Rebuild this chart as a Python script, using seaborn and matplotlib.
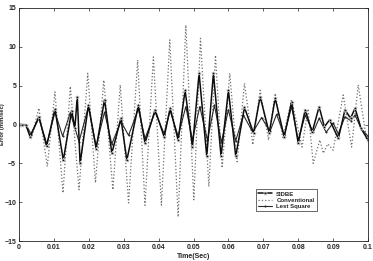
import matplotlib
matplotlib.use("Agg")
import matplotlib.pyplot as plt
import seaborn as sns
import pandas as pd

# values (time in s, error in mm/sec)
t_sidbe = [0.0, 0.001, 0.002, 0.0032, 0.0057, 0.0079, 0.0103, 0.0127, 0.0151, 0.0160,
           0.0167, 0.0175, 0.0199, 0.0221, 0.0245, 0.0266, 0.0292, 0.0309, 0.0342, 0.0361,
           0.0390, 0.0416, 0.0433, 0.0456, 0.0476, 0.0497, 0.0516, 0.0538, 0.0557, 0.0579,
           0.0600, 0.0621, 0.0646, 0.0672, 0.0691, 0.0717, 0.0734, 0.0760, 0.0781, 0.0800,
           0.0820, 0.0840, 0.0860, 0.0875, 0.0890, 0.0915, 0.0934, 0.0950, 0.0963, 0.0980,
           0.1]
v_sidbe = [0.0, 0.0, -0.1, -1.6, 1.0, -2.8, 2.0, -4.6, 1.8, -0.5,
           3.6, -5.0, 2.5, -3.1, 3.2, -3.7, 0.8, -4.6, 2.5, -2.4,
           1.9, -1.6, 2.1, -2.0, 4.4, -2.9, 6.6, -4.1, 6.6, -4.1,
           4.4, -4.1, 2.2, -1.1, 3.6, -1.1, 3.4, -1.6, 2.9, -2.4,
           1.9, -1.0, 2.3, -0.3, 0.6, -1.8, 1.9, 0.8, 2.1, -0.5,
           -2.0]

t_conv = [0.0, 0.002, 0.0036, 0.0057, 0.0081, 0.0103, 0.0126, 0.0147, 0.0172, 0.0197,
          0.0219, 0.0243, 0.0269, 0.0290, 0.0314, 0.0340, 0.0361, 0.0385, 0.0408, 0.0432,
          0.0456, 0.0478, 0.0501, 0.0520, 0.0544, 0.0563, 0.0582, 0.0604, 0.0625, 0.0646,
          0.0670, 0.0691, 0.0715, 0.0734, 0.0756, 0.0781, 0.0811, 0.0828, 0.0843, 0.0862,
          0.0872, 0.0885, 0.0900, 0.0929, 0.0953, 0.0972, 0.0996, 0.1]
v_conv = [0.0, 0.0, -1.7, 2.1, -5.4, 4.2, -8.8, 4.9, -8.4, 6.6,
          -7.5, 5.7, -8.4, 5.1, -10.1, 8.3, -10.4, 8.7, -10.4, 10.9,
          -11.9, 12.8, -9.7, 11.1, -8.0, 8.9, -5.6, 6.6, -4.8, 5.3,
          -2.6, 4.4, -2.0, 4.0, -1.8, 3.2, -2.9, 2.0, -5.0, -2.0,
          -3.7, -2.5, -3.3, 3.8, -2.9, 5.1, -2.0, -1.5]

t_ls = [0.0, 0.002, 0.0034, 0.0057, 0.0080, 0.0103, 0.0125, 0.0147, 0.0172, 0.0199,
        0.0221, 0.0245, 0.0266, 0.0292, 0.0314, 0.0342, 0.0361, 0.0390, 0.0416, 0.0433,
        0.0456, 0.0478, 0.0497, 0.0518, 0.0540, 0.0560, 0.0580, 0.0600, 0.0621, 0.0643,
        0.0670, 0.0695, 0.0719, 0.0738, 0.0760, 0.0781, 0.0800, 0.0820, 0.0843, 0.0860,
        0.0880, 0.0900, 0.0915, 0.0934, 0.0950, 0.0963, 0.0980, 0.1]
v_ls = [0.0, 0.0, -1.2, 0.8, -2.5, 1.6, -1.5, 1.5, -2.2, 2.3,
        -2.8, 1.6, -2.5, 0.4, -1.4, 2.0, -1.8, 1.6, -1.2, 1.8,
        -1.5, 2.3, -2.0, 2.3, -2.0, 2.5, -2.3, 1.9, -2.1, 1.2,
        -1.0, 0.9, -0.9, 1.3, -1.4, 2.3, -2.0, 1.2, -1.0, 0.8,
        -1.0, 0.2, -1.2, 1.0, 0.5, 1.2, -0.5, -1.5]

xticks = [0, 0.01, 0.02, 0.03, 0.04, 0.05, 0.06, 0.07, 0.08, 0.09, 0.1]
xticklabels = ['0', '0.01', '0.02', '0.03', '0.04', '0.05', '0.06', '0.07', '0.08', '0.09', '0.1']
yticks = [-15, -10, -5, 0, 5, 10, 15]

sns.set_style("ticks")
plt.rcParams['font.family'] = ['Liberation Sans', 'DejaVu Sans']
plt.rcParams['xtick.direction'] = 'in'
plt.rcParams['ytick.direction'] = 'in'

fig = plt.figure(figsize=(3.73, 2.61), dpi=100)
ax = fig.add_axes([19/373, 20/261, 349/373, 233/261])

df_sidbe = pd.DataFrame({'t': t_sidbe, 'v': v_sidbe})
df_conv = pd.DataFrame({'t': t_conv, 'v': v_conv})
df_ls = pd.DataFrame({'t': t_ls, 'v': v_ls})

sns.lineplot(data=df_conv, x='t', y='v', ax=ax, color='#6e6e6e', linestyle=':',
             linewidth=0.9, label='Conventional', sort=False)
sns.lineplot(data=df_ls, x='t', y='v', ax=ax, color='#2a2a2a', linewidth=0.8,
             marker='.', markersize=3, markeredgewidth=0, label='Lest Square', sort=False)
sns.lineplot(data=df_sidbe, x='t', y='v', ax=ax, color='#0d0d0d', linewidth=1.1,
             marker='*', markersize=3.5, markeredgewidth=0.3, label='SIDBE', sort=False)

ax.set_xlim(0, 0.1)
ax.set_ylim(-15, 15)
ax.set_xticks(xticks)
ax.set_xticklabels(xticklabels)
ax.set_yticks(yticks)
ax.tick_params(axis='both', labelsize=5, length=2, width=0.5, pad=2,
               top=True, right=True)
for lab in ax.get_xticklabels() + ax.get_yticklabels():
    lab.set_fontweight('bold')
for sp in ax.spines.values():
    sp.set_linewidth(0.6)
    sp.set_color('#222222')

ax.set_xlabel('Time(Sec)', fontsize=5, fontweight='bold', labelpad=1.5)
ax.set_ylabel('Error (mm/sec)', fontsize=4.2, fontweight='bold')
ax.yaxis.set_label_coords(-14/349, 0.5)

h, l = ax.get_legend_handles_labels()
order = [l.index('SIDBE'), l.index('Conventional'), l.index('Lest Square')]
leg = ax.legend([h[i] for i in order], [l[i] for i in order],
                loc='upper left', bbox_to_anchor=(253/373, 1 - 186/261),
                bbox_transform=fig.transFigure, fontsize=4.3, frameon=True,
                fancybox=False, edgecolor='#222222', borderpad=0.4,
                labelspacing=0.15, handlelength=2.2, handletextpad=0.8)
leg.get_frame().set_linewidth(0.6)
for txt in leg.get_texts():
    txt.set_fontweight('bold')

fig.savefig('out.png', dpi=100)
